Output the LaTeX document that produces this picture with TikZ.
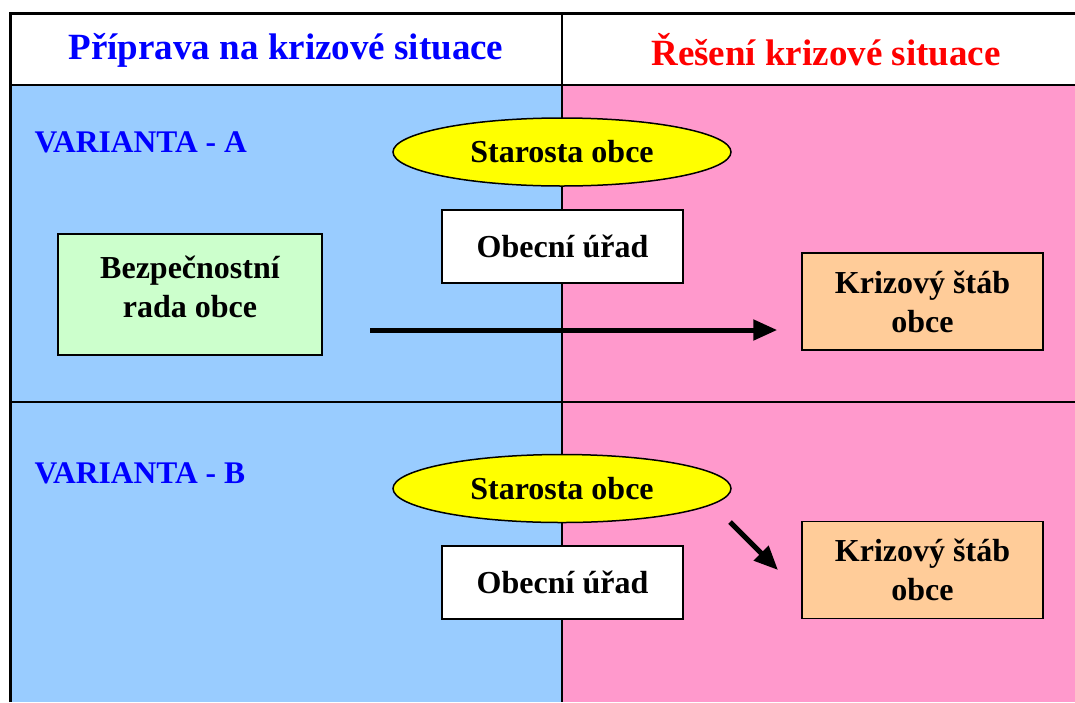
\documentclass[tikz,border=0pt]{standalone}
\usepackage{fontspec}
\setmainfont{Liberation Serif}
\usepackage{tikz}
\usetikzlibrary{arrows.meta}
\usetikzlibrary{shapes.geometric}

\definecolor{modra}{HTML}{99CCFF}
\definecolor{ruzova}{HTML}{FF99CC}
\definecolor{zluta}{HTML}{FFFF00}
\definecolor{zelena}{HTML}{CCFFCC}
\definecolor{oranzova}{HTML}{FFCC99}
\definecolor{textmodra}{HTML}{0000FF}
\definecolor{textcervena}{HTML}{FF0000}

\begin{document}
\begin{tikzpicture}[x=1pt,y=1pt,
    box/.style={draw=black,line width=1.5pt,align=center,inner sep=0pt,
        font=\fontsize{32}{39}\selectfont\bfseries},
    oval/.style={ellipse,draw=black,line width=1.5pt,fill=zluta,inner sep=0pt,
        minimum width=338,minimum height=68,font=\fontsize{32}{39}\selectfont\bfseries},
    hlava/.style={font=\fontsize{37}{44}\selectfont\bfseries},
    varianta/.style={anchor=west,text=textmodra,font=\fontsize{31.5}{39}\selectfont\bfseries},
    sipka/.style={line width=5pt,-{Triangle[length=24pt,width=20pt]}}]
        
            \useasboundingbox (0,0) rectangle (1075,-702);
            
            % Background and table lines
            \fill[modra] (10,-85) rectangle (562,-702);
            \fill[ruzova] (562,-85) rectangle (1075,-702);
            \draw[line width=3pt] (10,-702) -- (10,-13) -- (1075,-13);
            \draw[line width=2pt] (10,-85) -- (1075,-85);
            \draw[line width=2pt] (10,-402) -- (1075,-402);
            \draw[line width=2pt] (562,-13) -- (562,-702);
            
            % Header
            \node[hlava,text=textmodra] (hlava1) at (286,-50) {Příprava na krizové situace};
            \node[hlava,text=textcervena] (hlava2) at (826,-50) {Řešení krizové situace};
            
            % Variant A nodes
            \node[varianta] (varA) at (31,-142) {VARIANTA - A};
            \node[oval] (starostaA) at (562,-152) {Starosta obce};
            \node[box,fill=white,minimum width=241,minimum height=73] (uradA) at (562.5,-246.5) {Obecní úřad};
            \node[box,fill=zelena,minimum width=264,minimum height=121] (radaA) at (190,-294.5)
                {\raisebox{1pt}[0pt][0pt]{\parbox{250pt}{\centering Bezpečnostní\\rada obce}}};
            \node[box,fill=oranzova,minimum width=241,minimum height=97] (stabA) at (922.5,-301.5) {Krizový štáb\\obce};
            
            % Variant B nodes
            \node[varianta] (varB) at (31,-473) {VARIANTA - B};
            \node[oval] (starostaB) at (562,-488.5) {Starosta obce};
            \node[box,fill=white,minimum width=241,minimum height=73] (uradB) at (562.5,-582.5) {Obecní úřad};
            \node[box,fill=oranzova,minimum width=241,minimum height=97] (stabB) at (922.5,-570) {Krizový štáb\\obce};
            
            % Arrows
            \coordinate (zacA) at (370,-330);
            \coordinate (zacB) at (730,-522);
            \coordinate (konB) at (778,-570);
            \draw[sipka] (zacA) -- (zacA -| stabA.west) [shorten >=24pt];
            \draw[sipka] (zacB) -- (konB);
        
        \end{tikzpicture}
\end{document}
